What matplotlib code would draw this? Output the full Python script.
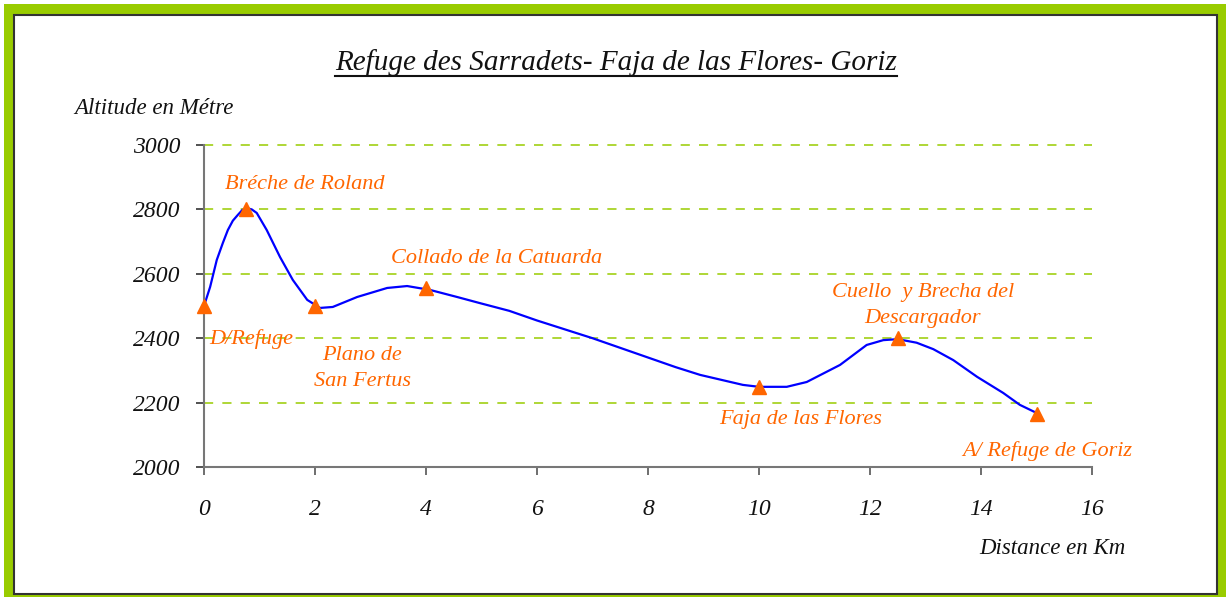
import matplotlib.pyplot as plt
from matplotlib.patches import Rectangle
from matplotlib.lines import Line2D

# profile (km, m)
distance = [0, 0.11, 0.23, 0.34, 0.43, 0.52, 0.61, 0.69, 0.77, 0.86, 0.95, 1.13, 1.37, 1.60, 1.86,
            2.09, 2.32, 2.76, 3.30, 3.66, 4.07, 4.56, 4.97, 5.5, 6.0, 7.0, 8.0, 8.5, 8.94, 9.71,
            10.0, 10.5, 10.86, 11.46, 11.94, 12.24, 12.5, 12.84, 13.14, 13.5, 13.93, 14.4, 14.7, 15.0]
altitude = [2500, 2559, 2643, 2696, 2736, 2765, 2783, 2798, 2804, 2800, 2789, 2736, 2652, 2581, 2519,
            2494, 2497, 2528, 2556, 2562, 2550, 2528, 2509, 2485, 2455, 2400, 2340, 2310, 2286, 2255,
            2249, 2249, 2264, 2317, 2379, 2394, 2397, 2386, 2366, 2332, 2280, 2230, 2193, 2168]

# waypoints
wp_x = [0, 0.75, 2, 4, 10, 12.5, 15]
wp_y = [2500, 2800, 2500, 2555, 2250, 2400, 2165]
wp_labels = ['D/Refuge', 'Bréche de Roland', 'Plano de\nSan Fertus', 'Collado de la Catuarda',
             'Faja de las Flores', 'Cuello  y Brecha del\nDescargador', 'A/ Refuge de Goriz']
lab_x = [0.86, 1.82, 2.85, 5.28, 10.74, 12.95, 15.2]
lab_y = [2398, 2876, 2306, 2649, 2146, 2502, 2050]

orange = '#FF6600'
green = '#99CC00'
serif = 'Liberation Serif'

fig = plt.figure(figsize=(12.26, 5.97), dpi=100)
W, H = 1226, 597

# frame: green band with dark inner edge
fig.patches.append(Rectangle((4, 0), W - 4, H - 4, transform=None, facecolor=green, edgecolor='none', zorder=-2))
fig.patches.append(Rectangle((14, 3), 1217 - 14, H - 15 - 3, transform=None, facecolor='white',
                             edgecolor='#333333', linewidth=1.5, zorder=-1))

ax = fig.add_axes([204 / W, 130 / H, 888 / W, 322 / H])
ax.set_facecolor('none')
ax.set_xlim(0, 16)
ax.set_ylim(2000, 3000)

for y in [2200, 2400, 2600, 2800, 3000]:
    ax.axhline(y, color=green, lw=1.1, dashes=(6, 6), zorder=1, clip_on=False)

ax.plot(distance, altitude, color='#0000FF', lw=1.6, zorder=2)
ax.plot(wp_x, wp_y, '^', color=orange, ms=10, zorder=3, clip_on=False)

for t, x, y in zip(wp_labels, lab_x, lab_y):
    ax.text(x, y, t, color=orange, fontsize=16, family=serif, style='italic',
            ha='center', va='center', linespacing=1.5)

ax.set_xticks(range(0, 17, 2))
ax.set_yticks(range(2000, 3001, 200))
ax.tick_params(axis='x', direction='out', length=6, pad=17, color='#555555', width=1.2)
ax.tick_params(axis='y', direction='out', length=6, pad=11, color='#333333', width=1.2)
for lab in ax.get_xticklabels() + ax.get_yticklabels():
    lab.set_fontfamily(serif)
    lab.set_fontstyle('italic')
    lab.set_fontsize(17)
    lab.set_color('#111111')
for s in ['top', 'right']:
    ax.spines[s].set_visible(False)
for s in ['left', 'bottom']:
    ax.spines[s].set_color('#777777')
    ax.spines[s].set_linewidth(1.5)

fig.text(154 / W, (H - 108) / H, 'Altitude en Métre', fontsize=16.5, family=serif, style='italic',
         ha='center', va='center', color='#111111')
fig.text(1052 / W, (H - 548) / H, 'Distance en Km', fontsize=16.5, family=serif, style='italic',
         ha='center', va='center', color='#111111')
title = fig.text(616 / W, (H - 63) / H, 'Refuge des Sarradets- Faja de las Flores- Goriz', fontsize=21,
                 family=serif, style='italic', ha='center', va='center', color='#111111')

# underline the title
fig.canvas.draw()
bb = title.get_window_extent()
fig.lines.append(Line2D([bb.x0, bb.x1], [H - 76, H - 76], transform=None, color='#111111', lw=1.5))

fig.savefig('out.png', dpi=100)
